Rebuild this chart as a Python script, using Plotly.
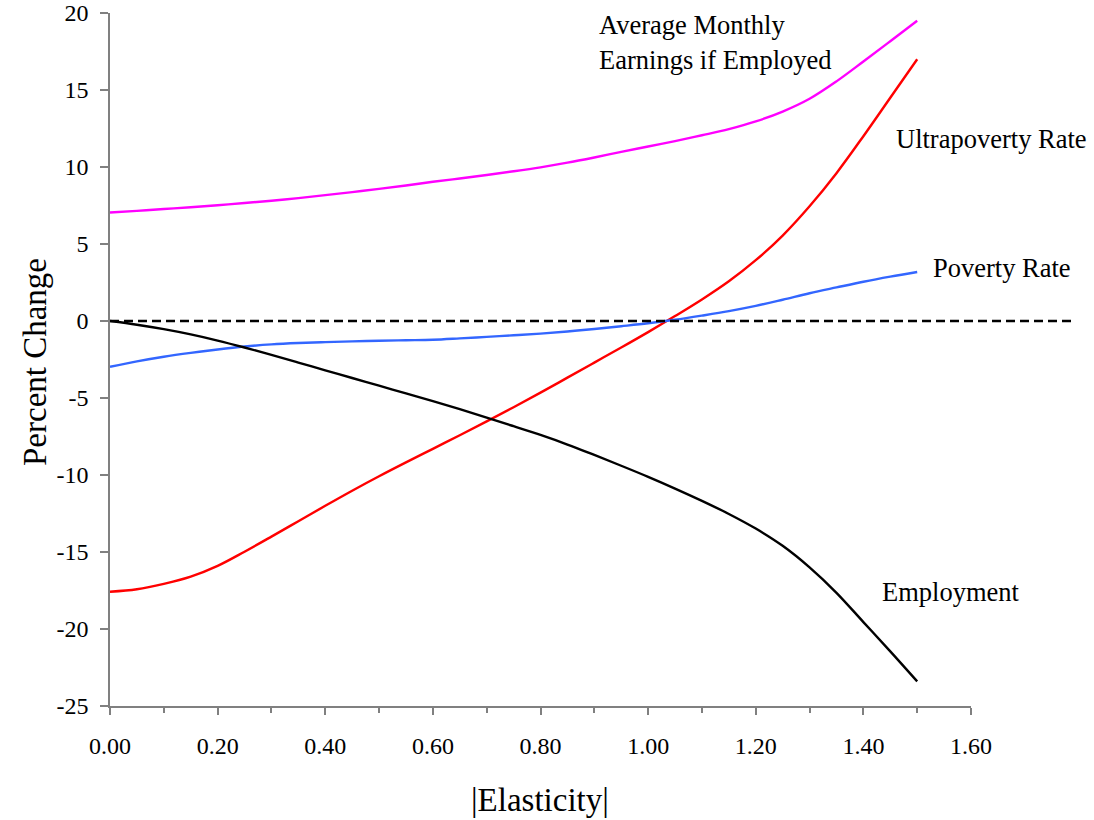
import plotly.graph_objects as go

elasticity = [0.00, 0.05, 0.10, 0.15, 0.20, 0.25, 0.30, 0.35, 0.40, 0.45,
              0.50, 0.55, 0.60, 0.65, 0.70, 0.75, 0.80, 0.85, 0.90, 0.95,
              1.00, 1.05, 1.10, 1.15, 1.20, 1.25, 1.30, 1.35, 1.40, 1.45, 1.50]

earnings = [7.05, 7.15, 7.27, 7.39, 7.52, 7.66, 7.81, 7.98, 8.17, 8.37,
            8.58, 8.80, 9.04, 9.25, 9.48, 9.72, 9.98, 10.28, 10.62, 10.98,
            11.33, 11.68, 12.06, 12.46, 12.96, 13.60, 14.43, 15.56, 16.85, 18.17, 19.50]

ultrapoverty = [-17.58, -17.42, -17.07, -16.60, -15.90, -14.98, -14.00, -13.00, -12.00, -11.02,
                -10.08, -9.18, -8.30, -7.42, -6.52, -5.60, -4.65, -3.68, -2.70, -1.72,
                -0.72, 0.32, 1.40, 2.58, 3.95, 5.55, 7.45, 9.60, 12.00, 14.50, 17.00]

poverty = [-2.97, -2.62, -2.32, -2.07, -1.85, -1.66, -1.52, -1.43, -1.37, -1.32,
           -1.28, -1.25, -1.22, -1.13, -1.03, -0.93, -0.82, -0.68, -0.52, -0.34,
           -0.15, 0.08, 0.35, 0.64, 0.98, 1.38, 1.80, 2.18, 2.55, 2.88, 3.18]

employment = [0.00, -0.24, -0.53, -0.87, -1.27, -1.72, -2.20, -2.70, -3.20, -3.70,
              -4.20, -4.70, -5.20, -5.72, -6.27, -6.83, -7.40, -8.02, -8.70, -9.40,
              -10.12, -10.88, -11.68, -12.53, -13.48, -14.60, -16.00, -17.65, -19.55, -21.45, -23.40]

x_tickvals = [0.0, 0.2, 0.4, 0.6, 0.8, 1.0, 1.2, 1.4, 1.6]
x_ticktext = ["0.00", "0.20", "0.40", "0.60", "0.80", "1.00", "1.20", "1.40", "1.60"]
x_minorvals = [0.1, 0.3, 0.5, 0.7, 0.9, 1.1, 1.3, 1.5]
y_tickvals = [-25, -20, -15, -10, -5, 0, 5, 10, 15, 20]
y_ticktext = ["-25", "-20", "-15", "-10", "-5", "0", "5", "10", "15", "20"]

FONT = "Liberation Serif"
AXIS = "#808080"
W, H = 1094, 820
L, R, T, B = 110, 971, 13, 706

fig = go.Figure()
series = [
    ("Average Monthly Earnings if Employed", earnings, "#FF00FF"),
    ("Ultrapoverty Rate", ultrapoverty, "#FF0000"),
    ("Poverty Rate", poverty, "#3366FF"),
    ("Employment", employment, "#000000"),
]
for name, vals, col in series:
    fig.add_trace(go.Scatter(x=elasticity, y=vals, mode="lines", name=name,
                             line=dict(color=col, width=2.4, shape="spline", smoothing=1.0)))

fig.add_shape(type="line", xref="paper", yref="y", x0=0, x1=(1072 - L) / (R - L), y0=0, y1=0,
              line=dict(color="#000000", width=2.5, dash="9px,5px"))

def label(text, xpx, ypx, size=26.5, **kw):
    fig.add_annotation(text=text, xref="paper", yref="paper",
                       x=(xpx - L) / (R - L), y=(B - ypx) / (B - T),
                       showarrow=False, font=dict(family=FONT, size=size, color="#000000"), **kw)

label("Average Monthly", 597, 25, xanchor="left", yanchor="middle")
label("Earnings if Employed", 597, 60, xanchor="left", yanchor="middle")
label("Ultrapoverty Rate", 894, 139, xanchor="left", yanchor="middle")
label("Poverty Rate", 931, 268, xanchor="left", yanchor="middle")
label("Employment", 880, 592, xanchor="left", yanchor="middle")
label("|Elasticity|", 540, 800, size=33, xanchor="center", yanchor="middle")
label("Percent Change", 35, 362, size=33, xanchor="center", yanchor="middle", textangle=-90)

fig.update_layout(
    width=W, height=H,
    margin=dict(l=L, r=W - R, t=T, b=H - B),
    paper_bgcolor="white", plot_bgcolor="white",
    showlegend=False,
    font=dict(family=FONT, color="#000000", size=24),
    xaxis=dict(range=[0, 1.6], tickvals=x_tickvals, ticktext=x_ticktext, automargin=False,
               showgrid=False, zeroline=False, showline=True, linecolor=AXIS, linewidth=1.5,
               ticks="outside", ticklen=7, tickcolor=AXIS, tickwidth=1.5,
               ticklabelstandoff=10, ticklabeloverflow="allow",
               minor=dict(tickvals=x_minorvals, ticks="outside",
                          ticklen=5, tickcolor=AXIS, tickwidth=1.5),
               tickfont=dict(family=FONT, size=24, color="#000000")),
    yaxis=dict(range=[-25, 20], tickvals=y_tickvals, ticktext=y_ticktext, automargin=False,
               showgrid=False, zeroline=False, showline=True, linecolor=AXIS, linewidth=1.5,
               ticks="outside", ticklen=8, tickcolor=AXIS, tickwidth=1.5,
               ticklabelstandoff=7, ticklabeloverflow="allow",
               tickfont=dict(family=FONT, size=24, color="#000000")),
)

fig.write_html("out.html", config={"displayModeBar": False},
               post_script="document.body.style.margin='0px';document.body.style.overflow='hidden';")
